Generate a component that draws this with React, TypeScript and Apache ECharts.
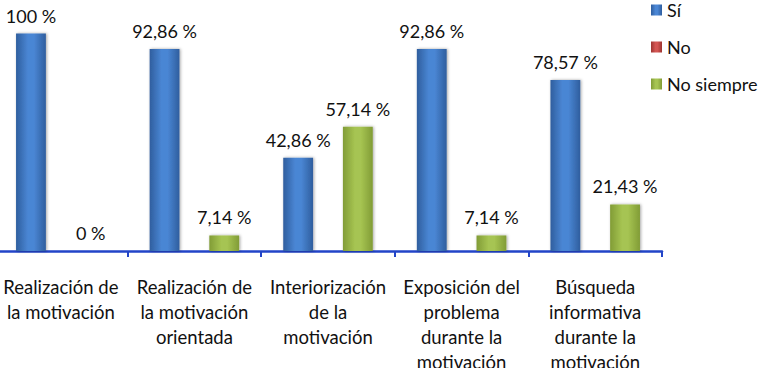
import React, { useEffect, useRef } from "react";
import * as echarts from "echarts";

const categories = [
  "Realización de\nla motivación",
  "Realización de\nla motivación\norientada",
  "Interiorización\nde la\nmotivación",
  "Exposición del\nproblema\ndurante la\nmotivación",
  "Búsqueda\ninformativa\ndurante la\nmotivación",
];
const seriesNames = ["Sí", "No", "No siempre"];
const siValues = [100, 92.86, 42.86, 92.86, 78.57];
const noValues = [0, 0, 0, 0, 0];
const noSiempreValues = [0, 7.14, 57.14, 7.14, 21.43];

const FONT = "Lato, 'Noto Sans', sans-serif";
const SHIFT = 6;

const grad = (edge: string, mid: string) =>
  new echarts.graphic.LinearGradient(0, 0, 1, 0, [
    { offset: 0, color: edge },
    { offset: 0.4, color: mid },
    { offset: 0.6, color: mid },
    { offset: 1, color: edge },
  ]);

const fmt = (v: number) => String(v).replace(".", ",") + " %";

export default function App() {
  const ref = useRef<HTMLDivElement>(null);
  useEffect(() => {
    if (!ref.current) return;
    const chart = echarts.init(ref.current, undefined, { renderer: "svg" });
    const label = (show: boolean) => ({
      show,
      position: "top" as const,
      distance: 9,
      fontFamily: FONT,
      fontSize: 18,
      color: "#111",
      formatter: (p: any) => fmt(p.value),
    });
    const colors = [
      grad("#2f5e9e", "#4a86d4"),
      grad("#9c3431", "#d35552"),
      grad("#819c36", "#a6c452"),
    ];
    chart.setOption({
      animation: false,
      grid: {
        left: 0,
        right: 102,
        top: 33.5,
        bottom: 117,
        containLabel: false,
        outerBoundsMode: "none",
      },
      legend: {
        orient: "vertical",
        left: 646 + SHIFT,
        top: -4,
        itemWidth: 11,
        itemHeight: 11,
        itemGap: 19,
        icon: "rect",
        textStyle: { fontFamily: FONT, fontSize: 18, color: "#111", lineHeight: 18 },
        data: seriesNames,
      },
      xAxis: {
        type: "category",
        data: categories,
        axisLine: { lineStyle: { color: "#2244c8", width: 2.5 } },
        axisTick: { show: true, length: 6, lineStyle: { color: "#2244c8", width: 2 } },
        axisLabel: {
          interval: 0,
          margin: 23,
          fontFamily: FONT,
          fontSize: 18.5,
          lineHeight: 25,
          color: "#111",
        },
      },
      yAxis: {
        type: "value",
        min: 0,
        max: 100,
        show: false,
        splitLine: { show: false },
      },
      series: [
        {
          name: seriesNames[0],
          type: "bar",
          data: siValues,
          barGap: "0%",
          barCategoryGap: "33%",
          itemStyle: { color: colors[0], shadowBlur: 3, shadowColor: "rgba(0,0,0,0.35)", shadowOffsetX: 1 },
          label: label(true),
        },
        {
          name: seriesNames[1],
          type: "bar",
          data: noValues,
          barGap: "0%",
          barCategoryGap: "33%",
          itemStyle: { color: colors[1] },
          label: label(false),
        },
        {
          name: seriesNames[2],
          type: "bar",
          data: noSiempreValues,
          barGap: "0%",
          barCategoryGap: "33%",
          itemStyle: { color: colors[2], shadowBlur: 3, shadowColor: "rgba(0,0,0,0.35)", shadowOffsetX: 1 },
          label: label(true),
        },
      ],
    });
    return () => chart.dispose();
  }, []);
  return (
    <div
      ref={ref}
      style={{ position: "fixed", left: -SHIFT, top: 0, width: 764 + SHIFT, height: 368, background: "#fff" }}
    />
  );
}
